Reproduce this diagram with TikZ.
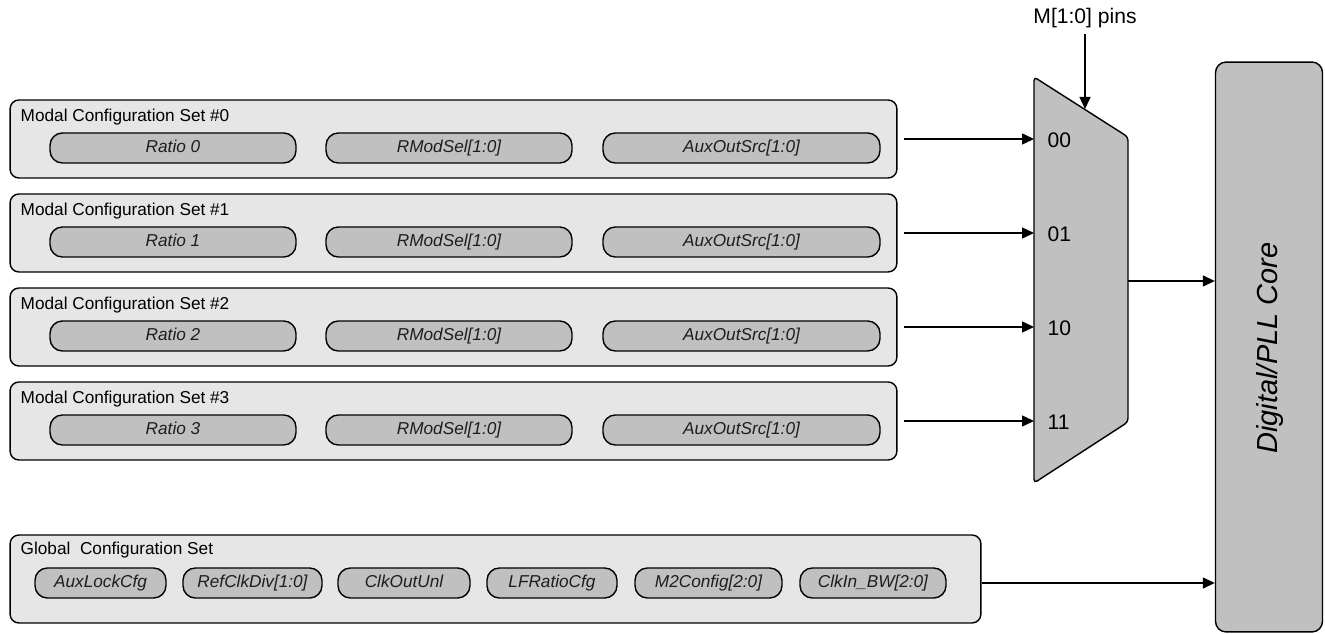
\documentclass[tikz,border=0pt]{standalone}
\usepackage{fontspec}
\setmainfont{Liberation Sans}
\usetikzlibrary{arrows.meta}
\definecolor{setfill}{RGB}{230,230,230}
\definecolor{fieldfill}{RGB}{192,192,192}
\definecolor{blockfill}{RGB}{192,192,192}
\definecolor{fieldtext}{RGB}{30,30,30}

\begin{document}
\begin{tikzpicture}[x=0.02cm, y=-0.02cm, line width=0.8pt,
        >={Triangle[length=0.24cm, width=0.22cm]}]
    \tikzstyle{setbox} = [draw, rounded corners=5pt, fill=setfill,
        minimum height=1.56cm]
    \tikzstyle{field} = [draw, rounded corners=7pt, fill=fieldfill,
        minimum height=0.6cm, inner sep=0pt, text=fieldtext,
        text height=7.2pt, text depth=2.4pt,
        font=\fontsize{9.8}{12}\selectfont\itshape]
    \tikzstyle{settitle} = [anchor=west, inner sep=0pt,
        font=\fontsize{9.8}{12}\selectfont]
    \tikzstyle{pinlabel} = [anchor=west, inner sep=0pt,
        font=\fontsize{12}{14}\selectfont]
    \useasboundingbox (0,0) rectangle (1325,634);

    % mux
    \draw[fill=blockfill, rounded corners=2pt]
        (1034,77) -- (1128,137) -- (1128,422) -- (1034,483) -- cycle;
    \node[font=\fontsize{12}{14}\selectfont] (pins) at (1085, 18) {M[1:0] pins};
    \coordinate (muxtop) at (1085, 109);
    \coordinate (muxout) at (1128, 281);
    \draw[->] (pins.south) -- (muxtop);

    % the four modal sets
    \foreach \i/\y/\sel in {0/139/00, 1/233/01, 2/327/10, 3/421/11} {
        \node[setbox, minimum width=17.74cm] (set\i) at (453.5, \y) {};
        \node[settitle] (title\i) at (20, \y-22) {Modal Configuration Set \#\i};
        \node[field, minimum width=4.92cm] (ratio\i) at (173, \y+9) {Ratio \i};
        \node[field, minimum width=4.92cm] (rmod\i) at (449, \y+9) {RModSel[1:0]};
        \node[field, minimum width=5.54cm] (aux\i) at (741.5, \y+9) {AuxOutSrc[1:0]};
        \coordinate (in\i) at (1034, \y);
        \node[pinlabel] (sel\i) at (1047, \y+1) {\sel};
        \draw[->] ([xshift=0.12cm]set\i.east) -- (in\i);
    }

    % core
    \node[draw, fill=blockfill, rounded corners=6pt, minimum width=2.14cm,
        minimum height=11.4cm] (core) at (1269, 347) {};
    \node[rotate=90, font=\fontsize{16.5}{20}\selectfont\itshape]
        (corelabel) at (1270, 348) {Digital/PLL Core};
    \draw[->] (muxout) -- (muxout -| core.west);

    % global set
    \node[setbox, minimum width=19.42cm, minimum height=1.76cm] (global) at (495.5, 579) {};
    \node[settitle] (gtitle) at (20, 550) {Global\ \ Configuration Set};
    \node[field, minimum width=2.62cm] (auxlock) at (100.5, 583) {AuxLockCfg};
    \node[field, minimum width=2.78cm] (refclk) at (252.5, 583) {RefClkDiv[1:0]};
    \node[field, minimum width=2.64cm] (clkout) at (404, 583) {ClkOutUnl};
    \node[field, minimum width=2.6cm] (lfratio) at (552, 583) {LFRatioCfg};
    \node[field, minimum width=2.94cm] (m2cfg) at (708.5, 583) {M2Config[2:0]};
    \node[field, minimum width=2.92cm] (clkbw) at (873, 583) {ClkIn\_BW[2:0]};
    \draw[->] (global.east |- clkbw) -- (clkbw -| core.west);
\end{tikzpicture}
\end{document}
